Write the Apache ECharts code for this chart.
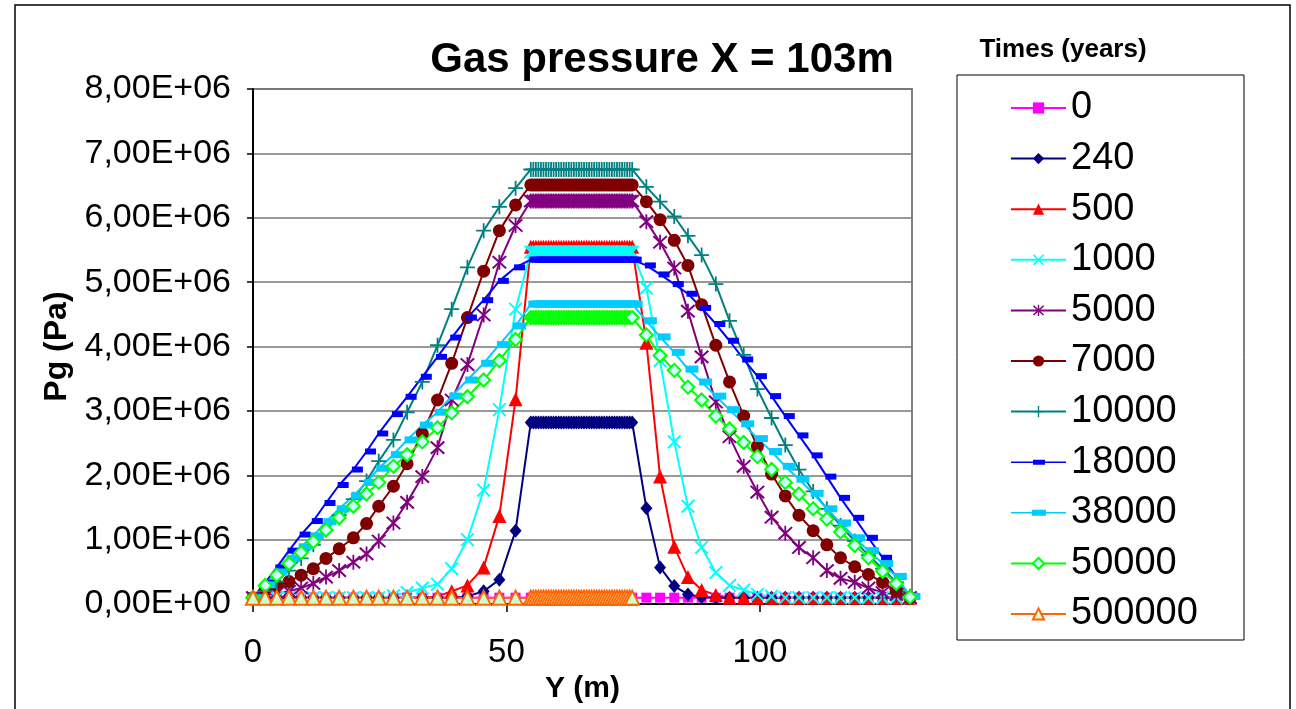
<!DOCTYPE html>
<html>
<head>
<meta charset="utf-8">
<title>Gas pressure X = 103m</title>
<script src="https://cdn.jsdelivr.net/npm/echarts@6/dist/echarts.min.js"></script>
<style>
  html, body { margin: 0; padding: 0; background: #fff; }
  #chart { width: 1296px; height: 709px; }
</style>
</head>
<body>
<div id="chart"></div>
<script>
// pressure values are in units of 1E+06 Pa

// Y positions (m): left slope, plateau, right slope
const leftX = [0, 2.4, 4.7, 7.1, 9.5, 11.9, 14.4, 17.0, 19.8, 22.4, 24.8, 27.7, 30.4, 33.4, 36.4, 39.2, 42.3, 45.5, 48.6, 51.8]
const plateauX = [54.8, 55.3, 55.8, 56.3, 56.8, 57.3, 57.8, 58.3, 58.8, 59.3, 59.8, 60.3, 60.8, 61.3, 61.8, 62.3, 62.8, 63.3, 63.8, 64.3, 64.8,
  65.3, 65.8, 66.3, 66.8, 67.3, 67.8, 68.3, 68.8, 69.3, 69.8, 70.3, 70.8, 71.3, 71.8, 72.3, 72.8, 73.3, 73.8, 74.3, 74.8]
const rightX = [77.6, 80.3, 83.1, 85.8, 88.5, 91.3, 94.0, 96.8, 99.5, 102.3, 105.0, 107.7, 110.5, 113.2, 115.9, 118.7, 121.4, 124.2, 126.9, 129.6]

// legend names (times, years)
const timeNames = ['0', '240', '500', '1000', '5000', '7000', '10000', '18000', '38000', '50000', '500000']

// pressure level on the plateau for each time
const plateauLevels = [0.1, 2.82, 5.55, 5.47, 6.26, 6.51, 6.75, 5.35, 4.66, 4.45, 0.1]

// left slope values
const t0Left = [0.1, 0.1, 0.1, 0.1, 0.1, 0.1, 0.1, 0.1, 0.1, 0.1, 0.1, 0.1, 0.1, 0.1, 0.1, 0.1, 0.1, 0.1, 0.1, 0.1]
const t240Left = [0.1, 0.1, 0.1, 0.1, 0.1, 0.1, 0.1, 0.1, 0.1, 0.1, 0.1, 0.1, 0.1, 0.1, 0.1, 0.1, 0.12, 0.2, 0.38, 1.14]
const t500Left = [0.1, 0.1, 0.1, 0.1, 0.1, 0.1, 0.1, 0.1, 0.1, 0.1, 0.1, 0.1, 0.1, 0.1, 0.12, 0.2, 0.29, 0.57, 1.37, 3.18]
const t1000Left = [0.1, 0.1, 0.1, 0.1, 0.1, 0.1, 0.1, 0.1, 0.1, 0.1, 0.1, 0.13, 0.18, 0.25, 0.31, 0.55, 1.0, 1.77, 3.02, 4.58]
const t5000Left = [0.1, 0.13, 0.17, 0.2, 0.25, 0.32, 0.42, 0.52, 0.65, 0.78, 0.98, 1.26, 1.58, 1.98, 2.43, 3.17, 3.72, 4.49, 5.31, 5.88]
const t7000Left = [0.1, 0.22, 0.29, 0.35, 0.45, 0.55, 0.71, 0.86, 1.03, 1.25, 1.52, 1.83, 2.18, 2.65, 3.17, 3.74, 4.45, 5.17, 5.8, 6.2]
const t10000Left = [0.1, 0.2, 0.35, 0.52, 0.71, 0.92, 1.15, 1.38, 1.63, 1.91, 2.22, 2.55, 2.98, 3.45, 4.02, 4.58, 5.23, 5.8, 6.17, 6.46]
const t18000Left = [0.1, 0.33, 0.57, 0.83, 1.08, 1.29, 1.57, 1.85, 2.09, 2.37, 2.65, 2.95, 3.22, 3.53, 3.84, 4.14, 4.45, 4.72, 5.02, 5.23]
const t38000Left = [0.1, 0.3, 0.5, 0.71, 0.89, 1.06, 1.28, 1.48, 1.68, 1.89, 2.11, 2.32, 2.55, 2.78, 2.98, 3.23, 3.48, 3.74, 4.03, 4.32]
const t50000Left = [0.1, 0.29, 0.45, 0.63, 0.8, 0.97, 1.15, 1.34, 1.52, 1.71, 1.89, 2.14, 2.32, 2.52, 2.74, 2.97, 3.22, 3.48, 3.78, 4.11]
const t500000Left = [0.1, 0.1, 0.1, 0.1, 0.1, 0.1, 0.1, 0.1, 0.1, 0.1, 0.1, 0.1, 0.1, 0.1, 0.1, 0.1, 0.1, 0.1, 0.1, 0.1]

// right slope values (500000 has none past the plateau)
const t0Right = [0.1, 0.1, 0.1, 0.1, 0.1, 0.1, 0.1, 0.1, 0.1, 0.1, 0.1, 0.1, 0.1, 0.1, 0.1, 0.1, 0.1, 0.1, 0.1, 0.1]
const t240Right = [1.49, 0.57, 0.28, 0.15, 0.11, 0.1, 0.1, 0.1, 0.1, 0.1, 0.1, 0.1, 0.1, 0.1, 0.1, 0.1, 0.1, 0.1, 0.1, 0.1]
const t500Right = [4.06, 1.98, 0.89, 0.42, 0.22, 0.14, 0.1, 0.1, 0.1, 0.1, 0.1, 0.1, 0.1, 0.1, 0.1, 0.1, 0.1, 0.1, 0.1, 0.1]
const t1000Right = [4.91, 3.78, 2.52, 1.52, 0.88, 0.49, 0.29, 0.22, 0.15, 0.12, 0.1, 0.1, 0.1, 0.1, 0.1, 0.1, 0.1, 0.1, 0.1, 0.1]
const t5000Right = [5.94, 5.62, 5.22, 4.55, 3.84, 3.14, 2.6, 2.14, 1.74, 1.35, 1.1, 0.88, 0.72, 0.52, 0.4, 0.34, 0.25, 0.18, 0.15, 0.1]
const t7000Right = [6.25, 5.97, 5.65, 5.26, 4.65, 4.02, 3.45, 2.92, 2.45, 2.02, 1.68, 1.38, 1.14, 0.92, 0.72, 0.58, 0.46, 0.34, 0.2, 0.1]
const t10000Right = [6.48, 6.25, 6.02, 5.72, 5.42, 4.97, 4.4, 3.87, 3.34, 2.89, 2.47, 2.09, 1.75, 1.48, 1.22, 0.98, 0.76, 0.55, 0.34, 0.12]
const t18000Right = [5.26, 5.12, 4.97, 4.82, 4.6, 4.35, 4.09, 3.8, 3.54, 3.23, 2.92, 2.62, 2.31, 1.98, 1.65, 1.34, 1.03, 0.72, 0.42, 0.12]
const t38000Right = [4.4, 4.15, 3.91, 3.65, 3.45, 3.23, 3.02, 2.8, 2.57, 2.37, 2.14, 1.94, 1.72, 1.48, 1.26, 1.03, 0.83, 0.63, 0.43, 0.12]
const t50000Right = [4.18, 3.86, 3.63, 3.37, 3.17, 2.92, 2.72, 2.51, 2.29, 2.09, 1.89, 1.71, 1.48, 1.32, 1.12, 0.91, 0.72, 0.51, 0.32, 0.11]

const leftSlopes = [t0Left, t240Left, t500Left, t1000Left, t5000Left, t7000Left, t10000Left, t18000Left, t38000Left, t50000Left, t500000Left]
const rightSlopes = [t0Right, t240Right, t500Right, t1000Right, t5000Right, t7000Right, t10000Right, t18000Right, t38000Right, t50000Right, null]

// y axis tick values (1E+06 Pa)
const yTicks = [0, 1, 2, 3, 4, 5, 6, 7, 8]

const FONT = '"Liberation Sans", Arial, sans-serif'

// excel-like marker shapes
const crossPath = 'path://M-5,-4 L-4,-5 L0,-1 L4,-5 L5,-4 L1,0 L5,4 L4,5 L0,1 L-4,5 L-5,4 L-1,0 Z'
const plusPath = 'path://M-0.6,-5 L0.6,-5 L0.6,-0.6 L5,-0.6 L5,0.6 L0.6,0.6 L0.6,5 L-0.6,5 L-0.6,0.6 L-5,0.6 L-5,-0.6 L-0.6,-0.6 Z'
const starPath = 'path://M-5,-4 L-4,-5 L0,-1 L4,-5 L5,-4 L1,0 L5,4 L4,5 L0,1 L-4,5 L-5,4 L-1,0 Z M-0.6,-5.5 L0.6,-5.5 L0.6,5.5 L-0.6,5.5 Z'
// legend icons for the dash-marker series: thin line with a short bar in the middle
const dashIconThin = 'path://M0,6.2 L22,6.2 L22,4.5 L34,4.5 L34,6.2 L55,6.2 L55,7.8 L34,7.8 L34,9.5 L22,9.5 L22,7.8 L0,7.8 Z'
const dashIconThick = 'path://M0,6.2 L21,6.2 L21,4 L35,4 L35,6.2 L55,6.2 L55,7.8 L35,7.8 L35,10 L21,10 L21,7.8 L0,7.8 Z'

const seriesStyles = [
  { color: '#FF00FF', symbol: 'rect', size: 10 },
  { color: '#000080', symbol: 'diamond', size: [12, 14] },
  { color: '#FF0000', symbol: 'triangle', size: 14 },
  { color: '#00FFFF', symbol: crossPath, size: 14 },
  { color: '#800080', symbol: starPath, size: 15 },
  { color: '#800000', symbol: 'circle', size: 13 },
  { color: '#008080', symbol: plusPath, size: 15 },
  { color: '#0000FF', symbol: 'rect', size: [11, 6], offset: [4, 0], legendIcon: dashIconThin },
  { color: '#00CCFF', symbol: 'rect', size: [13, 7], offset: [4, 0], legendIcon: dashIconThick },
  { color: '#00FF00', symbol: 'diamond', size: 13, fill: '#CCFFFF' },
  { color: '#FF6600', symbol: 'triangle', size: 14, fill: '#CCFFCC' }
]

function buildData(left, level, right) {
  const data = []
  leftX.forEach((x, i) => data.push([x, left[i]]))
  plateauX.forEach(x => data.push([x, level]))
  if (right) rightX.forEach((x, i) => data.push([x, right[i]]))
  return data
}

const series = timeNames.map((name, i) => {
  const st = seriesStyles[i]
  return {
    name: name,
    type: 'line',
    data: buildData(leftSlopes[i], plateauLevels[i], rightSlopes[i]),
    symbol: st.symbol,
    symbolSize: st.size,
    symbolOffset: st.offset || [0, 0],
    showAllSymbol: true,
    lineStyle: { color: st.color, width: 2 },
    itemStyle: st.fill
      ? { color: st.fill, borderColor: st.color, borderWidth: 2 }
      : { color: st.color, borderWidth: 0 },
    emphasis: { disabled: true }
  }
})

const legendData = timeNames.map((name, i) => {
  const icon = seriesStyles[i].legendIcon
  return icon ? { name: name, icon: icon } : { name: name }
})

const chart = echarts.init(document.getElementById('chart'))
chart.setOption({
  animation: false,
  backgroundColor: '#fff',
  textStyle: { fontFamily: FONT },
  grid: {
    left: 253, right: 384, top: 89, bottom: 100,
    show: true, borderColor: '#808080', borderWidth: 2
  },
  xAxis: {
    type: 'value',
    min: 0, max: 130, interval: 50,
    name: 'Y (m)',
    nameLocation: 'middle',
    nameGap: 62,
    nameTextStyle: { fontSize: 30, fontWeight: 'bold', color: '#000', fontFamily: FONT },
    axisLine: { lineStyle: { color: '#000', width: 2 } },
    axisTick: { show: true, length: 8, lineStyle: { color: '#000', width: 1.5 } },
    axisLabel: { fontSize: 33, color: '#000', margin: 32, showMaxLabel: false, fontFamily: FONT },
    splitLine: { show: false }
  },
  yAxis: {
    type: 'value',
    min: yTicks[0], max: yTicks[yTicks.length - 1], interval: yTicks[1] - yTicks[0],
    name: 'Pg (Pa)',
    nameLocation: 'middle',
    nameGap: 180,
    nameTextStyle: { fontSize: 32, fontWeight: 'bold', color: '#000', fontFamily: FONT },
    axisLine: { lineStyle: { color: '#000', width: 2 } },
    axisTick: { show: true, length: 6, lineStyle: { color: '#000', width: 1.5 } },
    axisLabel: {
      fontSize: 34, color: '#000', margin: 22, fontFamily: FONT,
      formatter: v => v.toFixed(2).replace('.', ',') + (v === 0 ? 'E+00' : 'E+06')
    },
    splitLine: { show: true, lineStyle: { color: '#777', width: 1.5 } }
  },
  legend: {
    orient: 'vertical',
    left: 1005, top: 83,
    itemWidth: 55, itemHeight: 14, itemGap: 10.6,
    symbolKeepAspect: true,
    textStyle: { fontSize: 38, lineHeight: 40, color: '#000', fontFamily: FONT },
    data: legendData
  },
  graphic: [
    // outer frame of the figure
    { type: 'rect', shape: { x: 15, y: 5, width: 1275, height: 720 }, style: { fill: 'none', stroke: '#000', lineWidth: 1.5 }, silent: true },
    // legend frame
    { type: 'rect', shape: { x: 957, y: 75, width: 287, height: 565 }, style: { fill: 'none', stroke: '#000', lineWidth: 1 }, silent: true },
    { type: 'text', x: 662, y: 60, style: { text: 'Gas pressure X = 103m', font: 'bold 42px ' + FONT, fill: '#000', textAlign: 'center', textVerticalAlign: 'middle' } },
    { type: 'text', x: 1063, y: 50, style: { text: 'Times (years)', font: 'bold 26px ' + FONT, fill: '#000', textAlign: 'center', textVerticalAlign: 'middle' } }
  ],
  series: series
})

window.addEventListener('resize', () => chart.resize())
</script>
</body>
</html>
